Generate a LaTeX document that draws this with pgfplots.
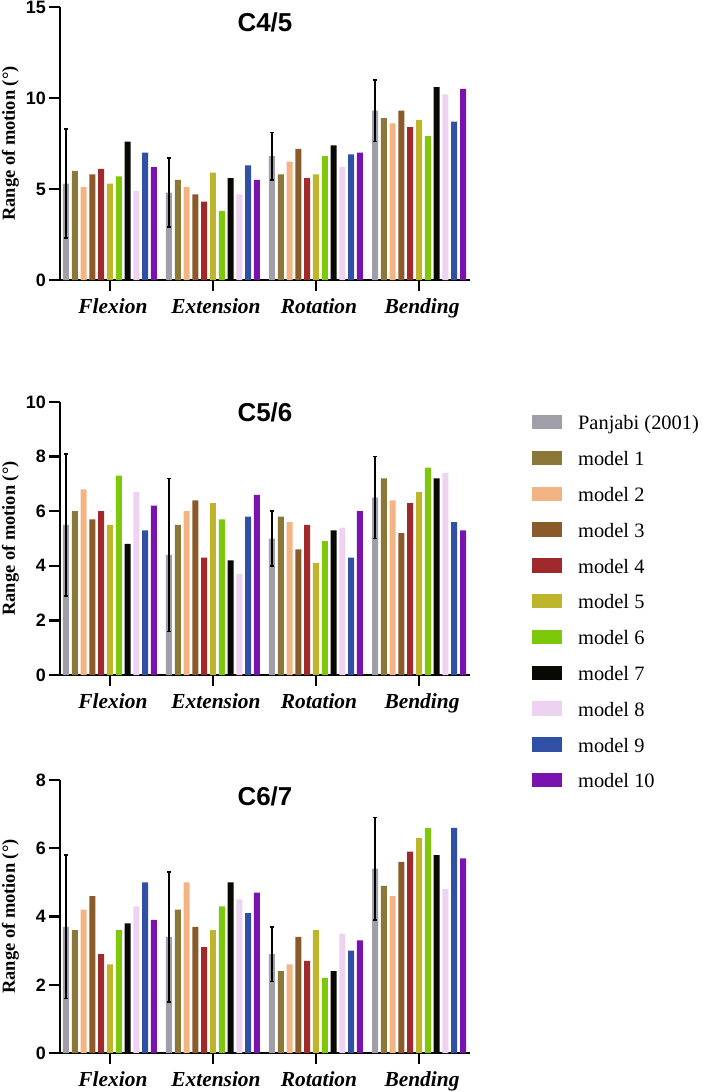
\documentclass[border=0pt]{standalone}
\usepackage{fontspec}
\setmainfont{Liberation Serif}
\newfontfamily\arialfont{Liberation Sans}
\usepackage{pgfplots}
\usepackage{pgfplotstable}
\pgfplotsset{compat=1.18}

\definecolor{cP}{HTML}{A09EA8}
\definecolor{cA}{HTML}{8B7738}
\definecolor{cB}{HTML}{F2B483}
\definecolor{cC}{HTML}{8B5A2B}
\definecolor{cD}{HTML}{A0292B}
\definecolor{cE}{HTML}{BFB52D}
\definecolor{cF}{HTML}{7DC80A}
\definecolor{cG}{HTML}{080804}
\definecolor{cH}{HTML}{EED2F2}
\definecolor{cI}{HTML}{3050A5}
\definecolor{cJ}{HTML}{7A12B0}

\pgfplotstableread{
x p pe m1 m2 m3 m4 m5 m6 m7 m8 m9 m10
0 5.3 3.0 6.0 5.1 5.8 6.1 5.3 5.7 7.6 4.9 7.0 6.2
1 4.8 1.9 5.5 5.1 4.7 4.3 5.9 3.8 5.6 4.7 6.3 5.5
2 6.8 1.3 5.8 6.5 7.2 5.6 5.8 6.8 7.4 6.2 6.9 7.0
3 9.3 1.7 8.9 8.6 9.3 8.4 8.8 7.9 10.6 10.2 8.7 10.5
}\tabA
\pgfplotstableread{
x p pe m1 m2 m3 m4 m5 m6 m7 m8 m9 m10
0 5.5 2.6 6.0 6.8 5.7 6.0 5.5 7.3 4.8 6.7 5.3 6.2
1 4.4 2.8 5.5 6.0 6.4 4.3 6.3 5.7 4.2 3.7 5.8 6.6
2 5.0 1.0 5.8 5.6 4.6 5.5 4.1 4.9 5.3 5.4 4.3 6.0
3 6.5 1.5 7.2 6.4 5.2 6.3 6.7 7.6 7.2 7.4 5.6 5.3
}\tabB
\pgfplotstableread{
x p pe m1 m2 m3 m4 m5 m6 m7 m8 m9 m10
0 3.7 2.1 3.6 4.2 4.6 2.9 2.6 3.6 3.8 4.3 5.0 3.9
1 3.4 1.9 4.2 5.0 3.7 3.1 3.6 4.3 5.0 4.5 4.1 4.7
2 2.9 0.8 2.4 2.6 3.4 2.7 3.6 2.2 2.4 3.5 3.0 3.3
3 5.4 1.5 4.9 4.6 5.6 5.9 6.3 6.6 5.8 4.8 6.6 5.7
}\tabC

\pgfplotsset{roms/.style={
  scale only axis, width=410bp, height=273bp,
  xmin=-0.485, xmax=3.495, ymin=0,
  axis x line=bottom, axis y line=left,
  axis line style={-, line width=2.6bp, black},
  ybar=2.8bp, bar width=6bp,
  xtick={0,1,2,3}, xticklabels={Flexion,Extension,Rotation,Bending},
  tick align=outside, major tick length=11bp,
  tick style={line width=2.4bp, black},
  xticklabel style={font=\fontsize{21.5}{21.5}\selectfont\bfseries\itshape, anchor=base, yshift=-22bp, xshift=3bp},
  yticklabel style={font=\arialfont\bfseries\fontsize{18}{18}\selectfont, anchor=east, inner sep=0pt, xshift=-3bp},
  /pgf/number format/assume math mode=true,
  ylabel={Range of motion (°)},
  ylabel style={font=\bfseries\fontsize{18.5}{18.5}\selectfont, at={(axis description cs:-0.121,0.5)}, anchor=center},
  title style={font=\arialfont\bfseries\fontsize{26}{26}\selectfont, at={(axis description cs:0.5,1)}, anchor=center},
  legend image code/.code={\fill[##1] (0bp,0.5bp) rectangle (30bp,15bp);},
}}

\newcommand{\drawbars}[1]{%
  \addplot[fill=cP, draw=none, error bars/.cd, y dir=both, y explicit,
    error bar style={draw=black, line width=1.5bp},
    error mark options={draw=black, line width=1.5bp, mark size=2.2bp, rotate=90}]
    table[x=x, y=p, y error=pe] {#1};
  \addplot[fill=cA, draw=none] table[x=x, y=m1] {#1};
  \addplot[fill=cB, draw=none] table[x=x, y=m2] {#1};
  \addplot[fill=cC, draw=none] table[x=x, y=m3] {#1};
  \addplot[fill=cD, draw=none] table[x=x, y=m4] {#1};
  \addplot[fill=cE, draw=none] table[x=x, y=m5] {#1};
  \addplot[fill=cF, draw=none] table[x=x, y=m6] {#1};
  \addplot[fill=cG, draw=none] table[x=x, y=m7] {#1};
  \addplot[fill=cH, draw=none] table[x=x, y=m8] {#1};
  \addplot[fill=cI, draw=none] table[x=x, y=m9] {#1};
  \addplot[fill=cJ, draw=none] table[x=x, y=m10] {#1};
}

\begin{document}
\begin{tikzpicture}
\useasboundingbox (0,0) rectangle (709bp,-1092bp);

\begin{axis}[roms, at={(60bp,-280bp)}, anchor=south west,
  ymax=15, ytick={0,5,10,15},
  title={C4/5}, title style={yshift=-21.5bp}]
\drawbars{\tabA}
\end{axis}

\begin{axis}[roms, at={(60bp,-675bp)}, anchor=south west,
  ymax=10, ytick={0,2,4,6,8,10},
  title={C5/6}, title style={yshift=-16bp},
  legend style={at={(axis description cs:1.151,0.9533)}, anchor=north west,
    draw=none, fill=none, inner sep=0pt,
    font=\fontsize{20.5}{20.5}\selectfont,
    row sep=15.8bp, column sep=16bp,
    nodes={inner sep=0pt, text height=15bp, text depth=5bp, anchor=base west}},
  legend cell align=left]
\drawbars{\tabB}
\legend{Panjabi (2001), model 1, model 2, model 3, model 4, model 5, model 6, model 7, model 8, model 9, model 10}
\end{axis}

\begin{axis}[roms, at={(60bp,-1053bp)}, anchor=south west,
  ymax=8, ytick={0,2,4,6,8},
  title={C6/7}, title style={yshift=-22.5bp}]
\drawbars{\tabC}
\end{axis}
\end{tikzpicture}
\end{document}
